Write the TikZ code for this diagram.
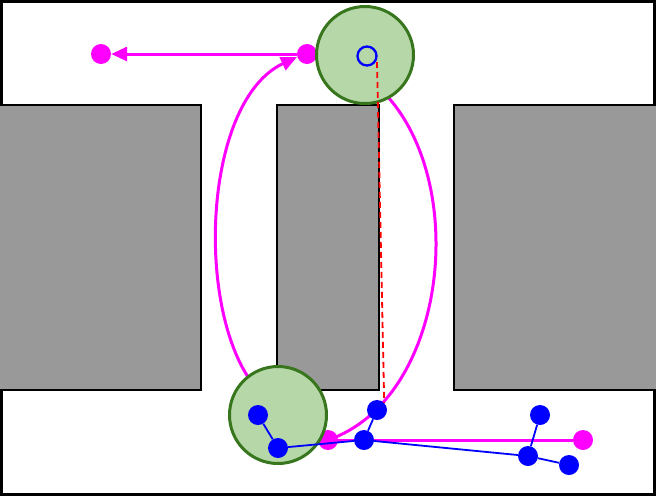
\documentclass[tikz,border=0pt]{standalone}
\usetikzlibrary{arrows.meta}
\definecolor{wall}{HTML}{999999}
\definecolor{robfill}{HTML}{B6D7A8}
\definecolor{robdraw}{HTML}{38761D}
\definecolor{mag}{HTML}{FF00FF}
\definecolor{blu}{HTML}{0000FF}
\begin{document}
\begin{tikzpicture}[x=1pt,y=-1pt,
  wallbox/.style={fill=wall,draw=black,line width=2.5pt},
  robot/.style={circle,fill=robfill,draw=robdraw,line width=3pt,minimum size=97pt,inner sep=0pt},
  pdot/.style={circle,fill=mag,inner sep=0pt,minimum size=20pt},
  bdot/.style={circle,fill=blu,inner sep=0pt,minimum size=20pt},
  ring/.style={circle,draw=blu,line width=2.3pt,inner sep=0pt,minimum size=19pt},
  path/.style={draw=mag,line width=3pt},
  link/.style={draw=blu,line width=1.8pt},
  arr/.style={-{Triangle[length=16pt,width=14pt]}}]
\useasboundingbox (0,0) rectangle (656,496);
\draw[line width=3pt] (1.5,1.5) rectangle (654.5,494.5);
\draw[wallbox] (-2,105) rectangle (201,390);
\draw[wallbox] (277,105) rectangle (379,390);
\draw[wallbox] (454,105) rectangle (658,390);
% magenta points
\node[pdot] (p1) at (101,54) {};
\node[pdot] (p2) at (307,54) {};
\node[pdot] (p3) at (328,440) {};
\node[pdot] (p4) at (583,440) {};
\coordinate (cl) at (250,380);
\coordinate (ct) at (297,57);
\coordinate (cr) at (388,97);
\draw[path,arr] (p2) -- (p1);
\draw[path,arr] (cl) .. controls (195,300) and (205,100) .. (ct);
\draw[path] (cr) .. controls (470,190) and (445,400) .. (p3.center);
\draw[path] (p3.center) -- (p4);
% robots
\node[robot] (r1) at (365,55) {};
\node[robot] (r2) at (278,415) {};
\node[ring] (g) at (367,56) {};
% blue tree
\node[bdot] (b1) at (258,415) {};
\node[bdot] (b2) at (278,448) {};
\node[bdot] (b3) at (377,410) {};
\node[bdot] (b4) at (364,440) {};
\node[bdot] (b5) at (540,415) {};
\node[bdot] (b6) at (528,456) {};
\node[bdot] (b7) at (569,465) {};
\draw[link] (b1) -- (b2);
\draw[link] (b2) -- (b4);
\draw[link] (b4) -- (b3);
\draw[link] (b4) -- (b6);
\draw[link] (b6) -- (b5);
\draw[link] (b6) -- (b7);
\coordinate (d1) at (377,62);
\draw[red,line width=1.8pt,dash pattern=on 6pt off 4pt] (d1) -- (b3.north east);
\end{tikzpicture}
\end{document}
